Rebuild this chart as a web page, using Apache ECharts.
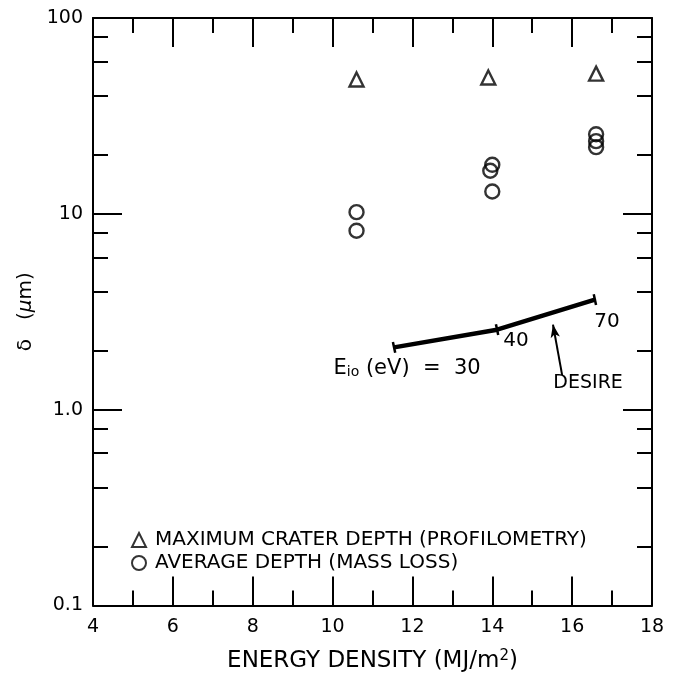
<!DOCTYPE html>
<html>
<head>
<meta charset="utf-8">
<script src="https://cdn.jsdelivr.net/npm/echarts@6/dist/echarts.min.js"></script>
<style>
html,body{margin:0;padding:0;background:#fff;}
#c{width:673px;height:678px;}
</style>
</head>
<body>
<div id="c"></div>
<script>
// ---- data ----
const xTickLabels = [4, 6, 8, 10, 12, 14, 16, 18];
const yMajorTicks = [0.1, 1, 10, 100];
const yMinorTicks = [0.2, 0.4, 0.6, 0.8, 2, 4, 6, 8, 20, 40, 60, 80];

const maxDepthX = [10.6, 13.9, 16.6];
const maxDepthY = [48.5, 49.7, 52];

const avgDepthX = [10.6, 10.6, 14.0, 13.95, 14.0, 16.6, 16.6, 16.6];
const avgDepthY = [10.2, 8.2, 17.8, 16.6, 13.0, 25.5, 23.5, 21.9];

const desireEio = [30, 40, 70];
const desireX = [11.54, 14.12, 16.57];
const desireY = [2.08, 2.56, 3.65];

const arrowTail = [15.75, 1.50];
const arrowTip = [15.52, 2.72];
const desireLabelAt = [16.40, 1.36];

const FONT = 'DejaVu Sans';
const BLACK = '#000';

const chart = echarts.init(document.getElementById('c'), null, {renderer: 'canvas'});

const xBase = {
  type: 'value', min: 4, max: 18, interval: 2,
  axisLine: {show: true, lineStyle: {color: BLACK, width: 2}},
  axisTick: {show: true, inside: true, length: 29, lineStyle: {color: BLACK, width: 2}},
  minorTick: {show: true, splitNumber: 2, length: 15, lineStyle: {color: BLACK, width: 2}},
  splitLine: {show: false},
  minorSplitLine: {show: false}
};

const yBase = {
  type: 'log', logBase: 10, min: 0.1, max: 100,
  splitLine: {show: false},
  minorSplitLine: {show: false}
};

function yAxisDef(pos, major, showLabel) {
  return Object.assign({}, yBase, {
    position: pos,
    axisLine: {show: major, lineStyle: {color: BLACK, width: 2}},
    axisTick: {show: true, inside: true, length: major ? 29 : 15,
      customValues: major ? yMajorTicks : yMinorTicks,
      lineStyle: {color: BLACK, width: 2}},
    axisLabel: showLabel ? {
      show: true, customValues: yMajorTicks, margin: 10,
      color: BLACK, fontFamily: FONT, fontSize: 19,
      formatter: v => (v >= 10 ? String(Math.round(v)) : Number(v).toFixed(1))
    } : {show: false},
    name: showLabel ? '{d|δ}   ({m|μ}m)' : '',
    nameLocation: 'middle', nameRotate: 90, nameGap: 37,
    nameTextStyle: {color: BLACK, fontFamily: FONT, fontSize: 20,
      rich: {d: {fontFamily: FONT, fontSize: 20, color: BLACK},
             m: {fontFamily: FONT, fontSize: 20, fontStyle: 'italic', color: BLACK}}}
  });
}

const option = {
  backgroundColor: '#fff',
  animation: false,
  grid: {left: 93, right: 21, top: 18, bottom: 68, containLabel: false},
  xAxis: [
    Object.assign({}, xBase, {
      position: 'bottom',
      axisLabel: {show: true, margin: 12, color: BLACK, fontFamily: FONT, fontSize: 19,
        customValues: xTickLabels},
      name: 'ENERGY DENSITY (MJ/m{s|2})',
      nameLocation: 'middle', nameGap: 43,
      nameTextStyle: {color: BLACK, fontFamily: FONT, fontSize: 23,
        rich: {s: {fontSize: 15, verticalAlign: 'top', color: BLACK, fontFamily: FONT, padding: [0, 0, 11, 0]}}}
    }),
    Object.assign({}, xBase, {position: 'top', axisLabel: {show: false}})
  ],
  yAxis: [
    yAxisDef('left', true, true),
    yAxisDef('left', false, false),
    yAxisDef('right', true, false),
    yAxisDef('right', false, false)
  ],
  legend: {
    data: ['MAXIMUM CRATER DEPTH (PROFILOMETRY)', 'AVERAGE DEPTH (MASS LOSS)'],
    orient: 'vertical', left: 126, top: 525, itemGap: 3,
    itemWidth: 14, itemHeight: 14,
    textStyle: {color: BLACK, fontFamily: FONT, fontSize: 20, lineHeight: 20, padding: [0, 0, 0, 4]},
    selectedMode: false
  },
  series: [
    {
      name: 'MAXIMUM CRATER DEPTH (PROFILOMETRY)', type: 'scatter',
      xAxisIndex: 0, yAxisIndex: 0,
      symbol: 'triangle', symbolSize: 14,
      itemStyle: {color: 'rgba(0,0,0,0)', borderColor: BLACK, borderWidth: 2.4},
      data: maxDepthX.map((x, i) => [x, maxDepthY[i]])
    },
    {
      name: 'AVERAGE DEPTH (MASS LOSS)', type: 'scatter',
      xAxisIndex: 0, yAxisIndex: 0,
      symbol: 'circle', symbolSize: 14,
      itemStyle: {color: 'rgba(0,0,0,0)', borderColor: BLACK, borderWidth: 2.4},
      data: avgDepthX.map((x, i) => [x, avgDepthY[i]])
    },
    {
      name: 'DESIRE', type: 'line', xAxisIndex: 0, yAxisIndex: 0,
      lineStyle: {color: BLACK, width: 4.5},
      symbol: 'rect', symbolSize: [2.5, 11], showSymbol: true,
      itemStyle: {color: BLACK},
      data: desireX.map((x, i) => {
        const e = desireEio[i];
        const d = {value: [x, desireY[i]], symbolRotate: 12};
        if (i === 0) {
          d.label = {show: true, position: 'inside', offset: [13, 21],
            formatter: '{a|E}{b|io}{a| (eV)  =  ' + e + '}',
            rich: {a: {fontFamily: FONT, fontSize: 21, color: BLACK},
                   b: {fontFamily: FONT, fontSize: 14, color: BLACK, verticalAlign: 'bottom', padding: [8, 0, 0, 0]}}};
        } else if (i === 1) {
          d.label = {show: true, position: 'inside', offset: [19, 11], formatter: String(e),
            fontFamily: FONT, fontSize: 20, color: BLACK};
        } else {
          d.label = {show: true, position: 'inside', offset: [12, 22], formatter: String(e),
            fontFamily: FONT, fontSize: 20, color: BLACK};
        }
        return d;
      }),
      markLine: {
        silent: true, symbol: ['none', 'arrow'], symbolSize: [7, 13],
        lineStyle: {color: BLACK, width: 2, type: 'solid'},
        label: {show: false},
        data: [[{coord: arrowTail}, {coord: arrowTip}]]
      },
      markPoint: {
        silent: true, symbol: 'circle', symbolSize: 1,
        itemStyle: {color: 'rgba(0,0,0,0)'},
        label: {show: true, position: 'inside', formatter: 'DESIRE',
          fontFamily: FONT, fontSize: 19, color: BLACK},
        data: [{coord: desireLabelAt}]
      }
    }
  ]
};

chart.setOption(option);
</script>
</body>
</html>
